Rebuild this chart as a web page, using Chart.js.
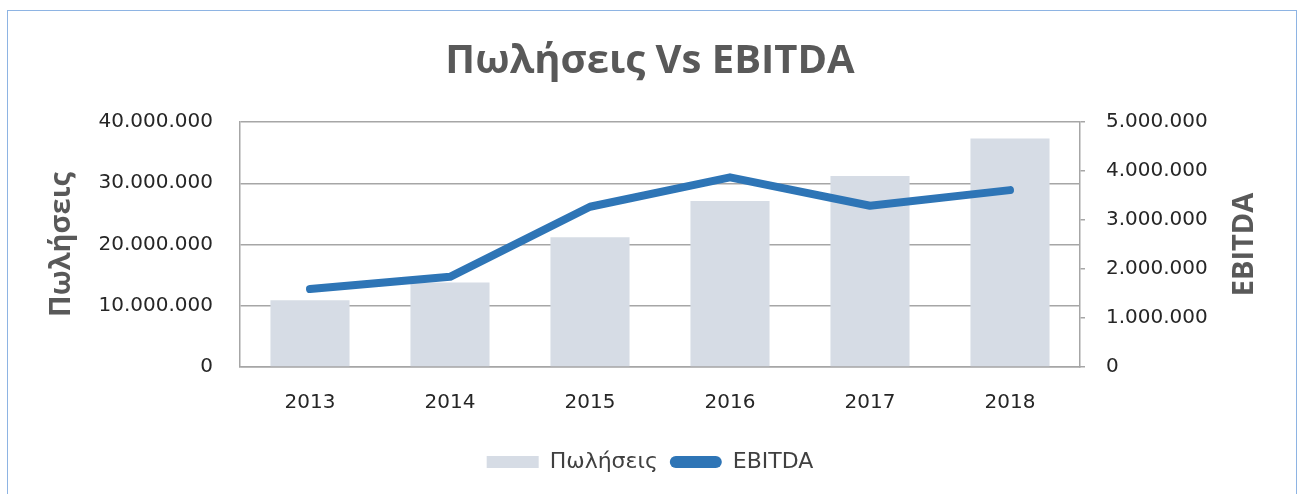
<!DOCTYPE html>
<html>
<head>
<meta charset="utf-8">
<script src="https://cdn.jsdelivr.net/npm/chart.js@4/dist/chart.umd.min.js"></script>
<style>
  body { margin: 0; background: #fff; }
  #wrap { position: relative; width: 1300px; height: 494px; }
  #frame { position: absolute; left: 7px; top: 10px; width: 1288px; height: 500px; border: 1px solid #8eb4e3; }
  canvas { position: absolute; left: 0; top: 0; }
</style>
</head>
<body>
<div id="wrap">
  <div id="frame"></div>
  <canvas id="chart" width="1300" height="494"></canvas>
</div>
<script>
const years = ["2013", "2014", "2015", "2016", "2017", "2018"];
const sales = [10900000, 13800000, 21200000, 27100000, 31200000, 37300000];
const ebitda = [1590000, 1840000, 3270000, 3870000, 3290000, 3610000];

const salesTitle = "Πωλήσεις";
const ebitdaTitle = "EBITDA";

function dots(v) {
    return String(v).replace(/\B(?=(\d{3})+(?!\d))/g, ".");
}

// axis titles drawn reading bottom-to-top on both sides
const axisTitles = {
    id: "axisTitles",
    afterDraw(chart) {
        const ctx = chart.ctx;
        const area = chart.chartArea;
        const midY = (area.top + area.bottom) / 2;
        ctx.save();
        ctx.font = "bold 29px 'Open Sans'";
        ctx.fillStyle = "#595959";
        ctx.textAlign = "center";
        ctx.textBaseline = "middle";
        [[62, salesTitle], [1245, ebitdaTitle]].forEach(([x, t]) => {
            ctx.save();
            ctx.translate(x, midY);
            ctx.rotate(-Math.PI / 2);
            ctx.fillText(t, 0, 0);
            ctx.restore();
        });
        ctx.restore();
    }
};

const tickFont = { family: "'DejaVu Sans'", size: 20 };

new Chart(document.getElementById("chart"), {
    type: "bar",
    data: {
        labels: years,
        datasets: [
            {
                type: "line",
                label: "EBITDA",
                data: ebitda,
                yAxisID: "y1",
                borderColor: "#2e75b6",
                backgroundColor: "#2e75b6",
                borderWidth: 8,
                borderCapStyle: "round",
                borderJoinStyle: "round",
                pointRadius: 0,
                tension: 0,
                order: 0
            },
            {
                label: "Πωλήσεις",
                data: sales,
                yAxisID: "y",
                backgroundColor: "#d6dce5",
                barPercentage: 0.565,
                categoryPercentage: 1,
                order: 1
            }
        ]
    },
    options: {
        responsive: false,
        animation: false,
        layout: { padding: { left: 0, right: 0, top: 0, bottom: 11 } },
        plugins: {
            title: {
                display: true,
                text: "Πωλήσεις Vs EBITDA",
                color: "#595959",
                font: { family: "'Open Sans'", size: 40, weight: "bold" },
                padding: { top: 38, bottom: 36 }
            },
            legend: {
                position: "bottom",
                reverse: true,
                labels: {
                    color: "#404040",
                    font: { family: "'DejaVu Sans'", size: 22 },
                    boxWidth: 52,
                    boxHeight: 12,
                    padding: 12,
                    useBorderRadius: true,
                    generateLabels(chart) {
                        const items = Chart.defaults.plugins.legend.labels.generateLabels(chart);
                        items.forEach(i => {
                            i.lineWidth = 0;
                            i.borderRadius = i.text === "EBITDA" ? 6 : 0;
                        });
                        return items;
                    }
                }
            },
            tooltip: { enabled: false }
        },
        scales: {
            x: {
                grid: { display: false, drawTicks: false },
                border: { display: true, color: "#a6a6a6", width: 1.5 },
                ticks: { color: "#262626", font: tickFont, padding: 24 }
            },
            y: {
                position: "left",
                min: 0,
                max: 40000000,
                afterFit(scale) { scale.width = 240; },
                grid: { color: "#a6a6a6", lineWidth: 1.5, drawTicks: false },
                border: { display: true, color: "#a6a6a6", width: 1.5 },
                ticks: { stepSize: 10000000, color: "#262626", font: tickFont, padding: 27, callback: v => dots(v) }
            },
            y1: {
                position: "right",
                min: 0,
                max: 5000000,
                afterFit(scale) { scale.width = 220; },
                grid: { drawOnChartArea: false, color: "#a6a6a6", lineWidth: 1.5, tickLength: 5 },
                border: { display: true, color: "#a6a6a6", width: 1.5 },
                ticks: { stepSize: 1000000, color: "#262626", font: tickFont, padding: 21, callback: v => dots(v) }
            }
        }
    },
    plugins: [axisTitles]
});
</script>
</body>
</html>
